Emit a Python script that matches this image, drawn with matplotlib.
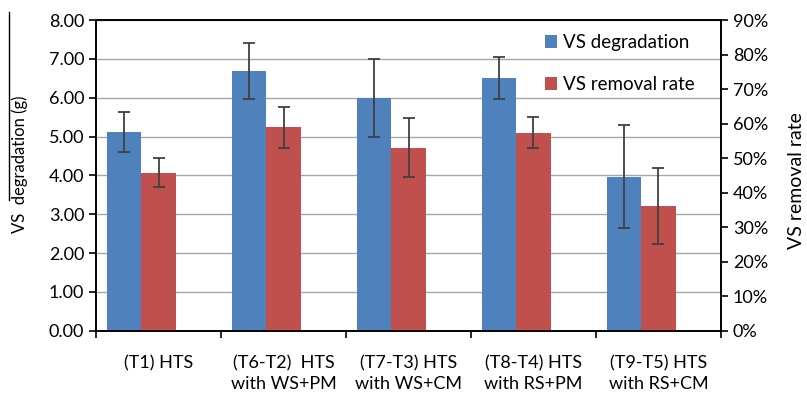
import matplotlib.pyplot as plt
import numpy as np
from matplotlib.lines import Line2D
from matplotlib.ticker import FuncFormatter

plt.rcParams['font.family'] = ['Lato', 'DejaVu Sans']

# data
groups = ['(T1) HTS', '(T6-T2)  HTS\nwith WS+PM', '(T7-T3) HTS\nwith WS+CM',
          '(T8-T4) HTS\nwith RS+PM', '(T9-T5) HTS\nwith RS+CM']
vs_deg = [5.12, 6.70, 5.99, 6.51, 3.97]        # g
vs_deg_err = [0.52, 0.72, 1.01, 0.54, 1.32]
vs_rate = [45.8, 58.9, 53.0, 57.4, 36.1]       # %
vs_rate_err = [4.3, 5.9, 8.5, 4.6, 11.0]

blue = '#4F81BD'
red = '#C0504D'
ecol = '#404040'
fs = 13

fig = plt.figure(figsize=(8.07, 3.94), dpi=100)
ax = fig.add_axes([0.119, 0.1607, 0.7744, 0.7883])
ax2 = ax.twinx()

x = np.arange(len(groups))
w = 0.276

ax.bar(x - w, vs_deg, w, color=blue, label='VS degradation', zorder=2)
ax.errorbar(x - w, vs_deg, yerr=vs_deg_err, fmt='none', ecolor=ecol, elinewidth=1.3,
            capsize=4, capthick=1.3, zorder=3)
ax2.bar(x, vs_rate, w, color=red, label='VS removal rate', zorder=2)
ax2.errorbar(x, vs_rate, yerr=vs_rate_err, fmt='none', ecolor=ecol, elinewidth=1.3,
             capsize=4, capthick=1.3, zorder=3)

ax.set_xlim(-0.5, len(groups) - 0.5)
ax.set_ylim(0, 8)
ax2.set_ylim(0, 90)
ax.set_yticks(np.arange(0, 8.01, 1))
ax.yaxis.set_major_formatter(FuncFormatter(lambda v, p: f'{v:.2f}'))
ax2.set_yticks(np.arange(0, 91, 10))
ax2.yaxis.set_major_formatter(FuncFormatter(lambda v, p: f'{v:.0f}%'))

ax.set_xticks(x)
ax.set_xticklabels(groups, fontsize=fs, linespacing=1.35)
ax.set_xticks(np.arange(-0.5, len(groups), 1), minor=True)
ax.tick_params(axis='x', which='major', length=0, pad=18)
ax.tick_params(axis='x', which='minor', length=5, width=1.2, direction='out')
ax.tick_params(axis='y', labelsize=fs, length=5, width=1.2, direction='out')
ax2.tick_params(axis='y', labelsize=fs, length=5, width=1.2, direction='out')

ax.grid(axis='y', color='#A6A6A6', lw=1, zorder=0)
ax.set_axisbelow(True)
for a in (ax, ax2):
    for s in a.spines.values():
        s.set_color('black')
        s.set_linewidth(1.2)

# axis titles placed in figure pixels
fig.text(20 / 807, 1 - 164 / 394, 'VS  degradation (g)', fontsize=12,
         rotation=90, ha='center', va='center')
fig.text(796 / 807, 1 - 181 / 394, 'VS removal rate', fontsize=14,
         rotation=90, ha='center', va='center')

# stray overline next to the left axis title
fig.add_artist(Line2D([9 / 807, 9 / 807], [1 - 12 / 394, 1 - 200 / 394],
                      color='black', lw=1))

h1, l1 = ax.get_legend_handles_labels()
h2, l2 = ax2.get_legend_handles_labels()
ax2.legend(h1 + h2, l1 + l2, loc='upper right', bbox_to_anchor=(0.985, 1.01),
           frameon=False, fontsize=13.5, handlelength=0.65, handleheight=0.65,
           handletextpad=0.3, labelspacing=1.35)

fig.savefig('out.png', dpi=100)
